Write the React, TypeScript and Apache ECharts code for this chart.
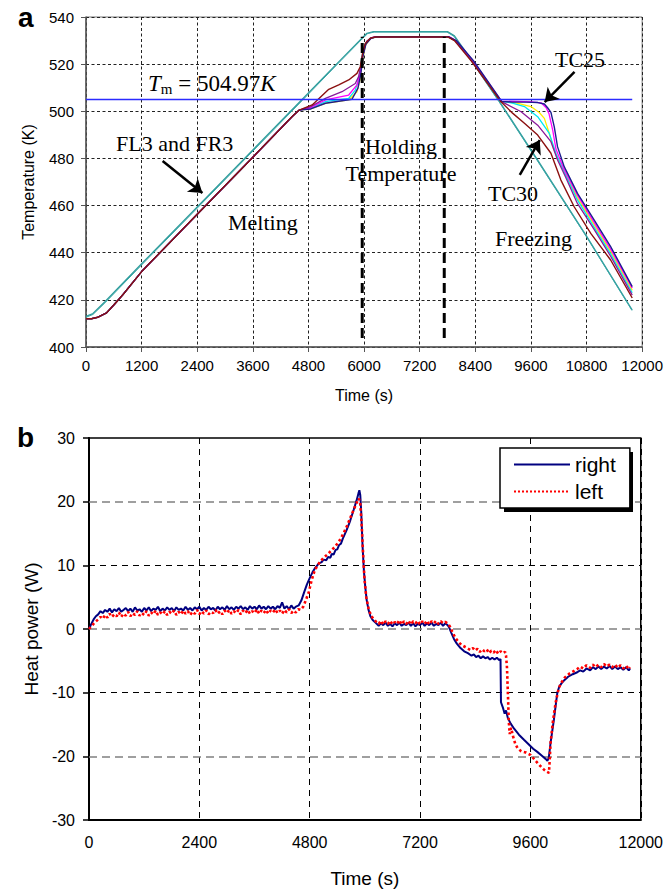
import { useEffect, useRef } from "react";
import * as echarts from "echarts";

const SANS = "'Liberation Sans', Arial, Helvetica, sans-serif";
const SERIF = "'Liberation Serif', 'Times New Roman', Times, serif";

type P = [number, number];

// ---------- Panel a : temperatures (K) vs time (s) ----------
const MELT: P[] = [
  [0, 412.0], [120, 412.0], [250, 412.6], [444, 414.5], [600, 417.8], [800, 422.3],
  [1200, 432.0], [2400, 456.3], [3600, 480.5], [4450, 497.8], [4600, 500.5],
];
const TC30: P[] = [
  ...MELT,
  [4880, 502.7], [5238, 509.3], [5453, 511.2], [5668, 513.3], [5847, 516.1],
  [5918, 518.9], [5968, 524.6], [6025, 528.8], [6133, 531.0], [6240, 531.5],
  [7815, 531.5], [7950, 530.0], [8315, 521.3], [8950, 504.1], [9210, 499.1],
  [9460, 494.9], [9746, 489.9], [10032, 482.2], [10247, 470.8], [10533, 459.5],
  [10891, 448.2], [11320, 436.9], [11786, 420.8],
];
const TC_PURPLE: P[] = [
  ...MELT,
  [4850, 502.0], [5166, 505.5], [5524, 508.3], [5811, 511.8], [5882, 514.7],
  [5940, 520.4], [5990, 526.1], [6060, 529.8], [6160, 531.2], [6260, 531.6],
  [7815, 531.6], [7960, 530.0], [8330, 521.5], [8955, 504.2], [9389, 499.8],
  [9746, 494.1], [10032, 487.1], [10175, 479.3], [10350, 472.0], [10600, 461.0],
  [10960, 450.0], [11320, 438.5], [11786, 422.0],
];
const TC_CYAN: P[] = [
  ...MELT,
  [4850, 501.3], [5166, 504.1], [5668, 505.5], [5811, 509.0], [5897, 514.7],
  [5954, 523.3], [6020, 528.5], [6140, 531.0], [6260, 531.5], [7820, 531.5],
  [7970, 530.0], [8340, 521.5], [8960, 504.2], [9200, 503.5], [9460, 502.0],
  [9746, 497.7], [9997, 490.6], [10139, 482.2], [10300, 475.0], [10600, 462.5],
  [10960, 451.0], [11320, 439.5], [11786, 423.0],
];
const TC_YELLOW: P[] = [
  ...MELT,
  [4850, 501.0], [5166, 503.4], [5668, 504.8], [5847, 508.3], [5918, 514.0],
  [5968, 521.9], [6030, 528.0], [6140, 531.0], [6260, 531.5], [7820, 531.5],
  [7970, 530.0], [8340, 521.5], [8960, 504.2], [9300, 503.5], [9600, 502.0],
  [9780, 499.5], [9890, 497.0], [9990, 491.0], [10090, 484.0], [10250, 477.0],
  [10600, 463.5], [10960, 452.0], [11320, 440.5], [11786, 424.0],
];
const TC_MAGENTA: P[] = [
  ...MELT,
  [4850, 501.5], [5166, 504.8], [5668, 506.9], [5847, 511.2], [5918, 516.1],
  [5968, 523.3], [6030, 528.5], [6140, 531.0], [6260, 531.7], [7830, 531.7],
  [7980, 530.0], [8350, 521.5], [8965, 504.3], [9300, 504.2], [9600, 504.0],
  [9820, 503.6], [9930, 501.5], [9990, 499.0], [10070, 492.0], [10140, 484.0],
  [10300, 476.0], [10600, 464.5], [10960, 453.0], [11320, 441.5], [11786, 425.0],
];
const TC25: P[] = [
  ...MELT,
  [4850, 501.0], [5166, 503.4], [5739, 505.1], [5868, 509.8], [5932, 516.1],
  [5975, 523.3], [6040, 528.5], [6150, 531.0], [6270, 531.6], [7830, 531.6],
  [7990, 530.0], [8360, 521.5], [8970, 504.2], [9200, 503.9], [9500, 503.9],
  [9750, 503.7], [9890, 503.1], [9960, 501.5], [10032, 499.5], [10104, 493.4],
  [10175, 484.9], [10318, 476.5], [10605, 465.2], [10963, 453.9], [11320, 442.6],
  [11786, 425.6],
];
const FL3: P[] = [
  [0, 413.0], [150, 414.2], [408, 419.2], [1200, 435.3], [2400, 459.4],
  [3600, 483.6], [4662, 505.0], [5500, 521.9], [5954, 531.0], [6062, 533.1],
  [6200, 533.8], [7800, 533.8], [7950, 532.0], [8315, 521.8], [8924, 504.1],
  [9746, 479.3], [10800, 447.0], [11786, 415.7],
];
const FR3: P[] = [
  [0, 412.6], [150, 413.8], [408, 418.7], [1200, 434.8], [2400, 458.9],
  [3600, 483.1], [4662, 504.5], [5500, 521.5], [5954, 530.6], [6080, 533.0],
  [6220, 533.6], [7790, 533.6], [7940, 531.8], [8300, 521.8], [8910, 504.1],
  [9730, 479.3], [10790, 447.0], [11780, 415.5],
];
const TM = 504.97;
const TM_LINE: P[] = [[0, TM], [11786, TM]];
const HOLD_START: P[] = [[5960, 403.8], [5960, 531.6]];
const HOLD_END: P[] = [[7730, 403.8], [7730, 531.6]];
// arrows: [tail, tip]
const ARROW_FL: [P, P] = [[1653, 478.9], [2512, 465.3]];
const ARROW_TC25: [P, P] = [[10541, 516.7], [9897, 503.9]];
const ARROW_TC30: [P, P] = [[9360, 473.0], [9790, 487.8]];

// ---------- Panel b : heat power (W) vs time (s) ----------
const RIGHT: P[] = [
  [0, 0.0], [50, 0.8], [100, 1.5], [150, 2.0], [200, 2.3], [250, 2.8],
  [300, 2.5], [350, 3.0], [400, 2.7], [450, 3.2], [500, 2.6], [550, 3.1], [600, 2.8],
  [650, 3.3], [700, 2.7], [750, 3.0], [800, 3.3], [850, 2.8], [900, 3.2], [950, 2.7],
  [1000, 3.4], [1050, 2.9], [1100, 3.1], [1150, 2.7], [1200, 3.3], [1250, 2.9],
  [1300, 3.4], [1350, 2.8], [1400, 3.2], [1450, 3.0], [1500, 3.5], [1550, 2.8],
  [1600, 3.2], [1650, 2.9], [1700, 3.4], [1750, 3.0], [1800, 3.3], [1850, 2.8],
  [1900, 3.4], [1950, 3.0], [2000, 3.2], [2050, 2.9], [2100, 3.5], [2150, 3.0],
  [2200, 3.3], [2250, 2.9], [2300, 3.4], [2350, 3.1], [2400, 3.5], [2450, 2.9],
  [2500, 3.3], [2550, 3.0], [2600, 3.5], [2650, 3.1], [2700, 3.3], [2750, 2.9],
  [2800, 3.5], [2850, 3.1], [2900, 3.4], [2950, 3.0], [3000, 3.6], [3050, 3.1],
  [3100, 3.4], [3150, 3.0], [3200, 3.5], [3250, 3.2], [3300, 3.6], [3350, 3.1],
  [3400, 3.4], [3450, 3.0], [3500, 3.6], [3550, 3.2], [3600, 3.5], [3650, 3.1],
  [3700, 3.7], [3750, 3.2], [3800, 3.5], [3850, 3.1], [3900, 3.6], [3950, 3.2],
  [4000, 3.5], [4050, 3.1], [4100, 3.6], [4150, 3.3], [4200, 4.2], [4250, 3.2],
  [4300, 3.6], [4350, 3.1], [4400, 3.7], [4450, 3.2], [4500, 3.5], [4560, 3.7],
  [4620, 4.5], [4680, 5.8], [4740, 7.0], [4800, 8.0], [4860, 8.9], [4920, 9.6],
  [5000, 10.3], [5060, 10.5], [5100, 10.9], [5160, 10.8], [5200, 11.3], [5250, 11.2],
  [5280, 11.8], [5320, 11.7], [5360, 12.4], [5400, 12.5], [5440, 13.2], [5480, 13.4],
  [5520, 14.2], [5600, 15.5], [5680, 17.0], [5760, 18.8], [5820, 20.2], [5860, 21.3],
  [5880, 21.8], [5900, 21.0], [5920, 18.5], [5950, 13.0], [5980, 9.0], [6010, 6.5],
  [6040, 4.5], [6080, 3.0], [6120, 2.0], [6170, 1.4], [6230, 1.0], [6300, 0.5],
  [6350, 0.9], [6400, 0.6], [6450, 1.0], [6500, 0.5], [6550, 0.8], [6600, 0.4],
  [6650, 0.9], [6700, 0.6], [6750, 1.0], [6800, 0.5], [6850, 0.8], [6900, 0.6],
  [6950, 1.0], [7000, 0.5], [7050, 0.9], [7100, 0.4], [7150, 0.8], [7200, 0.6],
  [7250, 1.0], [7300, 0.5], [7350, 0.9], [7400, 0.6], [7450, 1.0], [7500, 0.5],
  [7550, 0.8], [7600, 0.6], [7650, 1.0], [7700, 0.5], [7750, 0.9], [7800, 0.6],
  [7830, 0.3], [7880, -0.6], [7940, -1.6], [8000, -2.3], [8080, -3.0], [8160, -3.5],
  [8240, -3.8], [8320, -4.2], [8370, -4.0], [8420, -4.4], [8470, -4.2], [8520, -4.6],
  [8570, -4.3], [8620, -4.6], [8670, -4.4], [8720, -4.8], [8770, -4.5], [8820, -4.8],
  [8870, -4.5], [8920, -4.9], [8950, -4.7], [8960, -11.5], [9000, -12.3],
  [9040, -13.3], [9070, -12.8], [9110, -14.0], [9175, -14.9], [9250, -15.7],
  [9350, -16.6], [9460, -17.4], [9560, -18.1], [9660, -18.8], [9750, -19.3],
  [9850, -19.9], [9930, -20.4], [9970, -20.7], [10000, -20.2], [10040, -17.8],
  [10080, -15.8], [10112, -14.2], [10150, -12.0], [10184, -10.1], [10230, -9.0],
  [10280, -8.5], [10330, -8.1], [10420, -7.5], [10520, -7.1], [10620, -6.8],
  [10680, -6.5], [10750, -6.7], [10820, -6.2], [10900, -6.5], [10960, -6.0],
  [11020, -6.3], [11080, -5.9], [11140, -6.3], [11200, -5.9], [11260, -6.2],
  [11320, -5.8], [11380, -6.3], [11440, -5.9], [11500, -6.3], [11560, -6.0],
  [11620, -6.4], [11680, -6.0], [11740, -6.5], [11768, -6.2],
];
const LEFT: P[] = [
  [0, 0.0], [60, 0.5], [120, 1.0], [200, 1.5], [250, 1.9],
  [300, 1.6], [350, 2.2], [400, 1.8], [450, 2.4], [500, 1.9], [550, 2.3], [600, 2.0],
  [650, 2.6], [700, 1.9], [750, 2.4], [800, 2.1], [850, 2.7], [900, 2.0], [950, 2.5],
  [1000, 2.2], [1050, 2.8], [1100, 2.1], [1150, 2.5], [1200, 2.2], [1250, 2.8],
  [1300, 2.1], [1350, 2.6], [1400, 2.3], [1450, 2.9], [1500, 2.2], [1550, 2.6],
  [1600, 2.3], [1650, 2.8], [1700, 2.2], [1750, 2.7], [1800, 2.4], [1850, 2.9],
  [1900, 2.2], [1950, 2.7], [2000, 2.3], [2050, 2.9], [2100, 2.4], [2150, 2.8],
  [2200, 2.2], [2250, 2.7], [2300, 2.4], [2350, 3.0], [2400, 2.3], [2450, 2.8],
  [2500, 2.4], [2550, 2.9], [2600, 2.3], [2650, 2.7], [2700, 2.5], [2750, 3.0],
  [2800, 2.4], [2850, 2.8], [2900, 2.3], [2950, 2.9], [3000, 2.5], [3050, 3.0],
  [3100, 2.4], [3150, 2.8], [3200, 2.5], [3250, 3.0], [3300, 2.3], [3350, 2.9],
  [3400, 2.5], [3450, 3.0], [3500, 2.4], [3550, 2.8], [3600, 2.5], [3650, 3.1],
  [3700, 2.4], [3750, 2.9], [3800, 2.5], [3850, 3.0], [3900, 2.4], [3950, 2.9],
  [4000, 2.6], [4050, 3.1], [4100, 2.5], [4150, 2.9], [4200, 2.4], [4250, 3.0],
  [4300, 2.6], [4350, 3.1], [4400, 2.5], [4450, 2.9], [4500, 2.6], [4550, 3.1],
  [4600, 3.0], [4660, 3.5], [4720, 4.6], [4780, 5.8], [4840, 7.6], [4900, 9.0],
  [4960, 9.9], [5040, 10.7], [5120, 11.3], [5200, 11.8], [5280, 12.4], [5360, 13.0],
  [5440, 13.8], [5520, 14.8], [5600, 16.0], [5680, 17.4], [5760, 18.8], [5820, 19.8],
  [5870, 20.5], [5900, 19.6], [5930, 16.4], [5960, 12.0], [5990, 8.0], [6030, 5.0],
  [6080, 3.2], [6140, 2.0], [6200, 1.5], [6250, 1.1], [6300, 0.8], [6350, 1.3],
  [6400, 0.7], [6450, 1.2], [6500, 0.8], [6550, 1.3], [6600, 0.7], [6650, 1.1],
  [6700, 0.8], [6750, 1.4], [6800, 0.7], [6850, 1.2], [6900, 0.8], [6950, 1.3],
  [7000, 0.7], [7050, 1.2], [7100, 0.9], [7150, 1.3], [7200, 0.7], [7250, 1.2],
  [7300, 0.8], [7350, 1.3], [7400, 0.7], [7450, 1.2], [7500, 0.9], [7550, 1.3],
  [7600, 0.8], [7650, 1.2], [7700, 0.9], [7750, 1.1], [7800, 0.9], [7850, 0.4],
  [7900, -0.4], [7960, -1.3], [8030, -2.0], [8100, -2.5], [8200, -2.9], [8300, -3.3],
  [8350, -3.0], [8400, -3.4], [8450, -3.1], [8500, -3.6], [8550, -3.2], [8600, -3.5],
  [8650, -3.2], [8700, -3.8], [8750, -3.4], [8800, -3.7], [8850, -3.3], [8900, -3.9],
  [8950, -3.5], [9000, -3.8], [9050, -3.6], [9070, -4.2], [9090, -6.0], [9110, -10.0],
  [9130, -14.5], [9150, -16.5], [9180, -15.5], [9220, -16.8], [9270, -18.0],
  [9319, -18.7], [9400, -19.2], [9500, -19.4], [9607, -19.8], [9700, -20.6],
  [9800, -21.4], [9896, -22.1], [9950, -22.4], [10004, -22.6], [10020, -20.5],
  [10040, -17.8], [10090, -14.5], [10148, -11.6], [10200, -9.8], [10256, -8.6],
  [10350, -7.6], [10450, -7.0], [10616, -6.3], [10680, -5.9], [10750, -6.2],
  [10820, -5.7], [10900, -6.1], [10960, -5.6], [11020, -6.0], [11080, -5.6],
  [11140, -6.0], [11200, -5.5], [11260, -5.9], [11320, -5.6], [11380, -6.0],
  [11440, -5.6], [11500, -6.1], [11560, -5.7], [11620, -6.2], [11680, -5.8],
  [11740, -6.3], [11768, -6.0],
];
const B_GREY_LINES = [-20, 0, 20];
const B_BLACK_LINES = [-10, 10];

function serif(text: string, x: number, y: number, align = "left") {
  return {
    type: "text",
    x,
    y,
    silent: true,
    z: 50,
    style: {
      text,
      fontSize: 22,
      fontFamily: SERIF,
      fill: "#000",
      align,
      verticalAlign: "middle",
    },
  };
}

const plain = (v: number) => String(v);

export default function App() {
  const ref = useRef<HTMLDivElement>(null);

  useEffect(() => {
    if (!ref.current) return;
    const chart = echarts.init(ref.current, undefined, { renderer: "svg" });

    const tcLine = (name: string, data: P[], color: string, width = 1.3) => ({
      name,
      type: "line",
      xAxisIndex: 0,
      yAxisIndex: 0,
      data,
      symbol: "none",
      silent: true,
      lineStyle: { color, width },
      z: 3,
    });

    const arrow = (a: [P, P]) => [{ coord: a[0] }, { coord: a[1] }];

    const option: any = {
      animation: false,
      backgroundColor: "#fff",
      textStyle: { fontFamily: SANS },
      grid: [
        { left: 86, top: 17, width: 559, height: 330, show: true, borderColor: "#777", borderWidth: 1, backgroundColor: "transparent" },
        { left: 89, top: 438, width: 555, height: 392, show: true, borderColor: "#000", borderWidth: 1.5, backgroundColor: "transparent" },
      ],
      xAxis: [
        {
          type: "value",
          gridIndex: 0,
          min: 0,
          max: 12000,
          interval: 1200,
          axisLine: { show: true, onZero: false, lineStyle: { color: "#555", width: 1.5 } },
          axisTick: { show: true, inside: false, length: 5, lineStyle: { color: "#555" } },
          axisLabel: { fontSize: 15, color: "#000", fontFamily: SANS, margin: 11, formatter: plain },
          splitLine: { show: true, lineStyle: { color: "#222", type: [3, 2.5], width: 1 } },
          name: "Time (s)",
          nameLocation: "middle",
          nameGap: 40,
          nameTextStyle: { fontSize: 16, color: "#000", fontFamily: SANS },
        },
        {
          type: "value",
          gridIndex: 1,
          min: 0,
          max: 12000,
          interval: 2400,
          axisLine: { show: true, onZero: false, lineStyle: { color: "#000", width: 2 } },
          axisTick: { show: false },
          axisLabel: { fontSize: 16, color: "#000", fontFamily: SANS, margin: 14, formatter: plain },
          splitLine: { show: true, lineStyle: { color: "#000", type: [6, 5], width: 1 } },
          name: "Time (s)",
          nameLocation: "middle",
          nameGap: 49,
          nameTextStyle: { fontSize: 19, color: "#000", fontFamily: SANS },
        },
      ],
      yAxis: [
        {
          type: "value",
          gridIndex: 0,
          min: 400,
          max: 540,
          interval: 20,
          axisLine: { show: true, onZero: false, lineStyle: { color: "#555", width: 1.5 } },
          axisTick: { show: true, inside: false, length: 5, lineStyle: { color: "#555" } },
          axisLabel: { fontSize: 15, color: "#000", fontFamily: SANS, margin: 12, formatter: plain },
          splitLine: { show: true, lineStyle: { color: "#222", type: [3, 2.5], width: 1 } },
          name: "Temperature (K)",
          nameLocation: "middle",
          nameGap: 50,
          nameTextStyle: { fontSize: 16, color: "#000", fontFamily: SANS },
        },
        {
          type: "value",
          gridIndex: 1,
          min: -30,
          max: 30,
          interval: 10,
          axisLine: { show: true, onZero: false, lineStyle: { color: "#000", width: 2 } },
          axisTick: { show: true, inside: false, length: 6, lineStyle: { color: "#000", width: 1.5 } },
          axisLabel: { fontSize: 16, color: "#000", fontFamily: SANS, margin: 14, formatter: plain },
          splitLine: { show: false },
          name: "Heat power (W)",
          nameLocation: "middle",
          nameGap: 43,
          nameTextStyle: { fontSize: 19, color: "#000", fontFamily: SANS },
        },
      ],
      legend: {
        data: ["right", "left"],
        orient: "vertical",
        left: 500,
        top: 448,
        z: 10,
        itemWidth: 56,
        itemHeight: 14,
        itemGap: 3,
        padding: [4.5, 14, 4.5, 13],
        backgroundColor: "#fff",
        borderColor: "#000",
        borderWidth: 1.5,
        borderRadius: 0,
        selectedMode: false,
        itemStyle: { color: "rgba(0,0,0,0)", borderWidth: 0, opacity: 0 },
        textStyle: { fontSize: 21, lineHeight: 24, color: "#000", fontFamily: SANS },
      },
      series: [
        tcLine("FL3", FL3, "#2f9c9c", 1.3),
        tcLine("FR3", FR3, "#3aa6a6", 1.0),
        tcLine("TC-yellow", TC_YELLOW, "#ffee00"),
        tcLine("TC-cyan", TC_CYAN, "#00e8f0"),
        tcLine("TC-magenta", TC_MAGENTA, "#ff00ff"),
        tcLine("TC-purple", TC_PURPLE, "#8a1a9a"),
        tcLine("TC25", TC25, "#1c1c90", 1.4),
        tcLine("TC30", TC30, "#8b1010", 1.4),
        {
          name: "Tm",
          type: "line",
          xAxisIndex: 0,
          yAxisIndex: 0,
          data: TM_LINE,
          symbol: "none",
          silent: true,
          lineStyle: { color: "#2b2bff", width: 1.6 },
          z: 4,
          markLine: {
            silent: true,
            symbol: ["none", "arrow"],
            symbolSize: 13,
            label: { show: false },
            lineStyle: { color: "#000", width: 2.5, type: "solid" },
            emphasis: { disabled: true },
            data: [arrow(ARROW_FL), arrow(ARROW_TC25), arrow(ARROW_TC30)],
          },
        },
        {
          name: "hold-start",
          type: "line",
          xAxisIndex: 0,
          yAxisIndex: 0,
          data: HOLD_START,
          symbol: "none",
          silent: true,
          lineStyle: { color: "#000", width: 3, type: [10, 5] },
          z: 5,
        },
        {
          name: "hold-end",
          type: "line",
          xAxisIndex: 0,
          yAxisIndex: 0,
          data: HOLD_END,
          symbol: "none",
          silent: true,
          lineStyle: { color: "#000", width: 3, type: [10, 5] },
          z: 5,
        },
        {
          name: "grid-b",
          type: "line",
          xAxisIndex: 1,
          yAxisIndex: 1,
          data: [],
          symbol: "none",
          silent: true,
          z: 1,
          markLine: {
            silent: true,
            z: 1,
            symbol: ["none", "none"],
            label: { show: false },
            emphasis: { disabled: true },
            data: [
              ...B_GREY_LINES.map((v) => ({ yAxis: v, lineStyle: { color: "#808080", type: [8, 5], width: 1.6 } })),
              ...B_BLACK_LINES.map((v) => ({ yAxis: v, lineStyle: { color: "#000", type: [6, 5], width: 1 } })),
            ],
          },
        },
        {
          name: "right",
          type: "line",
          xAxisIndex: 1,
          yAxisIndex: 1,
          data: RIGHT,
          symbol: "none",
          silent: true,
          lineStyle: { color: "#000080", width: 2 },
          z: 3,
        },
        {
          name: "left",
          type: "line",
          xAxisIndex: 1,
          yAxisIndex: 1,
          data: LEFT,
          symbol: "none",
          silent: true,
          lineStyle: { color: "#ff0000", width: 2.6, type: "dotted" },
          z: 4,
        },
      ],
      graphic: [
        {
          type: "rect",
          z: 3,
          silent: true,
          shape: { x: 504, y: 452, width: 129, height: 60 },
          style: { fill: "#000" },
        },
        {
          type: "text",
          x: 18,
          y: 17,
          silent: true,
          style: { text: "a", fontSize: 28, fontWeight: "bold", fontFamily: SANS, fill: "#000", align: "left", verticalAlign: "middle" },
        },
        {
          type: "text",
          x: 17,
          y: 437,
          silent: true,
          style: { text: "b", fontSize: 28, fontWeight: "bold", fontFamily: SANS, fill: "#000", align: "left", verticalAlign: "middle" },
        },
        {
          type: "text",
          x: 148,
          y: 83,
          silent: true,
          z: 50,
          style: {
            text: "{i|T}{s|m}{n| = 504.97}{i|K}",
            align: "left",
            verticalAlign: "middle",
            fill: "#000",
            rich: {
              i: { fontSize: 23, fontStyle: "italic", fontFamily: SERIF, lineHeight: 27 },
              s: { fontSize: 15, fontFamily: SERIF, verticalAlign: "bottom", lineHeight: 27 },
              n: { fontSize: 23, fontFamily: SERIF, lineHeight: 27 },
            },
          },
        },
        serif("FL3 and FR3", 116, 143),
        serif("Melting", 228, 222),
        serif("Holding", 401, 146, "center"),
        serif("Temperature", 401, 173, "center"),
        serif("TC25", 555, 59),
        serif("TC30", 488, 193),
        serif("Freezing", 495, 238),
      ],
    };

    chart.setOption(option);
    return () => {
      chart.dispose();
    };
  }, []);

  return (
    <div
      ref={ref}
      style={{ position: "absolute", left: 0, top: 0, width: 666, height: 889, background: "#fff" }}
    />
  );
}
